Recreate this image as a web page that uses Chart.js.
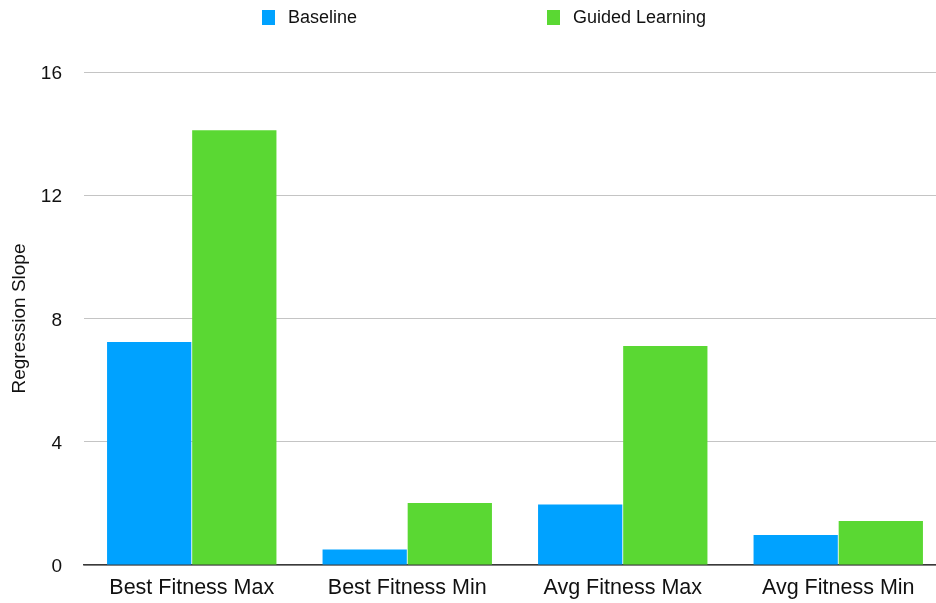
<!DOCTYPE html>
<html>
<head>
<meta charset="utf-8">
<script src="https://cdn.jsdelivr.net/npm/chart.js@4.4.0/dist/chart.umd.min.js"></script>
<style>
  html, body { margin: 0; padding: 0; background: #fff; overflow: hidden; }
  #wrap { width: 936px; height: 603px; overflow: hidden; }
</style>
</head>
<body>
<div id="wrap"><canvas id="barChart" width="946" height="603"></canvas></div>
<script>
const categories = ['Best Fitness Max', 'Best Fitness Min', 'Avg Fitness Max', 'Avg Fitness Min'];
const baseline = [7.24, 0.50, 1.96, 0.97];
const guided = [14.11, 2.01, 7.11, 1.43];
const yTicks = [0, 4, 8, 12, 16];

const FONT = '"Liberation Sans", Arial, sans-serif';

// legend drawn by hand so the two entries can sit far apart
const legendPlugin = {
    id: 'wideLegend',
    afterDraw(chart) {
        const ctx = chart.ctx;
        const spots = [262, 547];
        ctx.save();
        ctx.font = '18px ' + FONT;
        ctx.textBaseline = 'middle';
        chart.data.datasets.forEach((ds, i) => {
            const x = spots[i];
            ctx.fillStyle = ds.backgroundColor;
            ctx.fillRect(x, 10, 13, 15);
            ctx.fillStyle = '#111';
            ctx.fillText(ds.label, x + 26, 18.5);
        });
        ctx.restore();
    }
};

const config = {
    type: 'bar',
    data: {
        labels: categories,
        datasets: [
            { label: 'Baseline', data: baseline, backgroundColor: '#00a2ff' },
            { label: 'Guided Learning', data: guided, backgroundColor: '#5ad833' }
        ]
    },
    options: {
        responsive: false,
        animation: false,
        layout: { padding: { top: 72, left: 0, right: 0, bottom: 0 } },
        plugins: {
            legend: { display: false },
            tooltip: { enabled: false }
        },
        datasets: {
            bar: { categoryPercentage: 0.79, barPercentage: 0.99 }
        },
        scales: {
            x: {
                grid: { display: false, drawTicks: false },
                border: { display: true, color: '#3a3a3a', width: 1.5 },
                ticks: { color: '#111', font: { family: FONT, size: 21.5 }, padding: 10, maxRotation: 0 },
                afterFit(scale) { scale.height = 38; }
            },
            y: {
                min: 0,
                max: 16,
                afterBuildTicks(scale) { scale.ticks = yTicks.map(v => ({ value: v })); },
                grid: { color: '#c4c4c4', lineWidth: 1, drawTicks: false },
                border: { display: false },
                ticks: { color: '#111', font: { family: FONT, size: 19 }, padding: 22, labelOffset: 2 },
                title: {
                    display: true,
                    text: 'Regression Slope',
                    color: '#111',
                    font: { family: FONT, size: 19 },
                    padding: { top: 8, bottom: 0 }
                },
                afterFit(scale) { scale.width = 84; }
            }
        }
    },
    plugins: [legendPlugin]
};

const myBarChart = new Chart(document.getElementById('barChart'), config);
</script>
</body>
</html>
